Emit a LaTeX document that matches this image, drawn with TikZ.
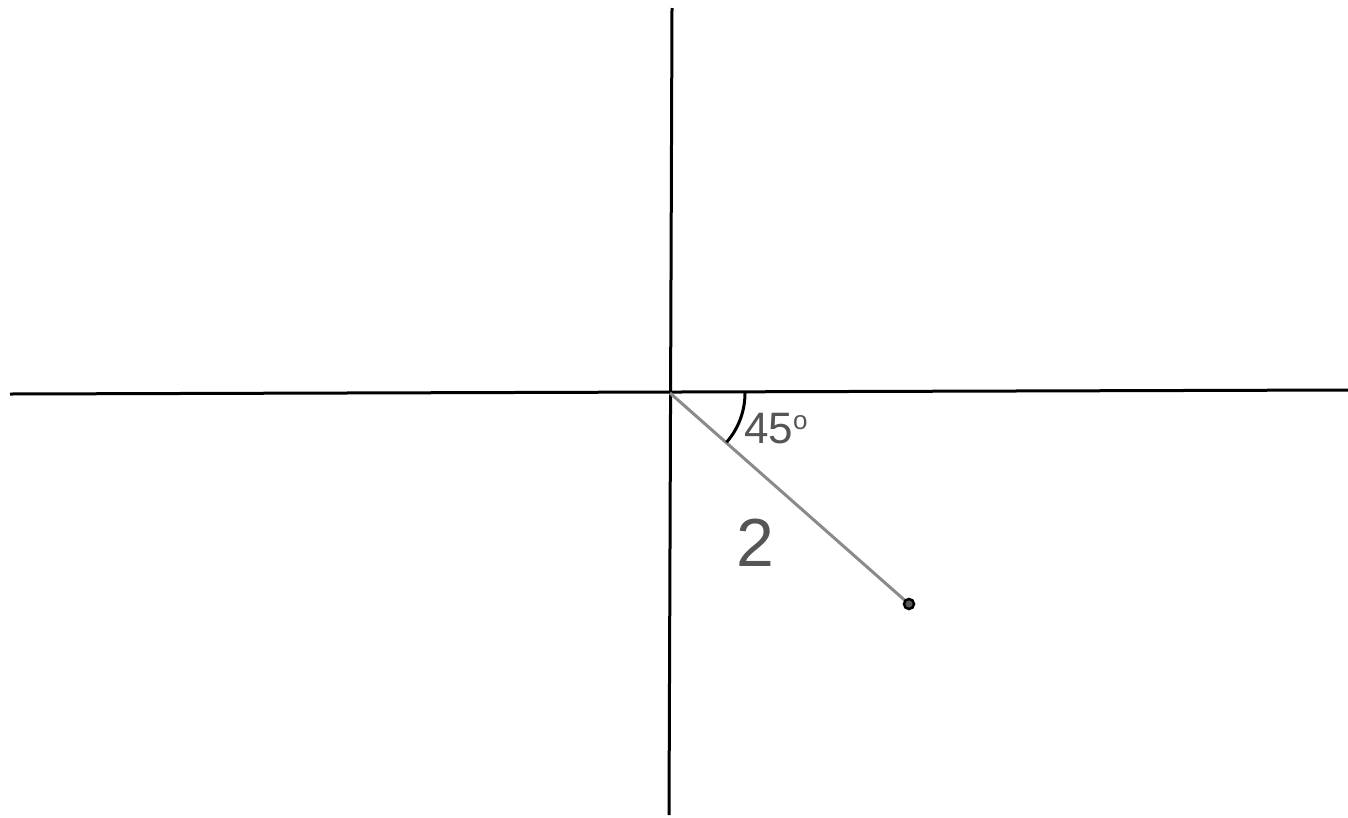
\documentclass[tikz,border=0pt]{standalone}
\usepackage{fontspec}
\setmainfont{Liberation Sans}
\definecolor{txtgray}{HTML}{555555}
\definecolor{lngray}{HTML}{8A8A8A}
\begin{document}
\begin{tikzpicture}[x=1pt,y=-1pt,
  axis/.style={line width=3pt,black},
  seg/.style={line width=3pt,lngray},
  lbl/.style={text=txtgray,inner sep=0pt,anchor=base west}]
\useasboundingbox (0,0) rectangle (1348,817);
\coordinate (xl) at (10,394);
\coordinate (xr) at (1348,390);
\coordinate (yt) at (672,8);
\coordinate (yb) at (669,815);
\coordinate (O) at (670,393);
\coordinate (P) at (909,604);
\draw[axis] (xl) -- (xr);
\draw[axis] (yt) -- (yb);
\draw[seg] (O) -- (P);
\node[circle,fill=black!65,draw=black,line width=2.5pt,minimum size=10pt,inner sep=0pt] (pt) at (P) {};
\draw[line width=3pt,black] (745,393) arc[start angle=0,end angle=41,radius=75];
\node[lbl,font=\fontsize{44}{44}\selectfont] (ang) at (744,443) {45\raisebox{14pt}{\fontsize{26}{26}\selectfont o}};
\node[lbl,font=\fontsize{68}{68}\selectfont] (len) at (736,566) {2};
\end{tikzpicture}
\end{document}
